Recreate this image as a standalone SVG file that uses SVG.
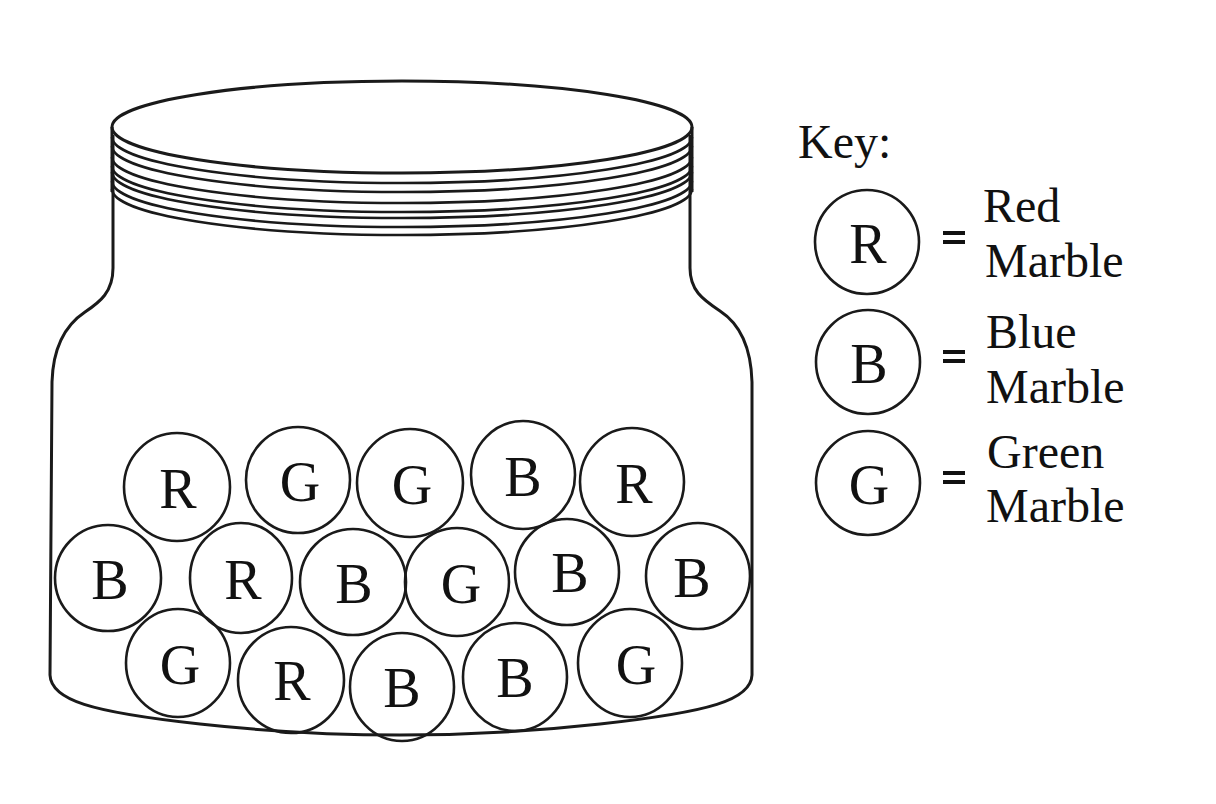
<svg xmlns="http://www.w3.org/2000/svg" width="1216" height="804" viewBox="0 0 1216 804">
<style>
.ln{fill:none;stroke:#1a1a1a;stroke-width:3}
.th{fill:none;stroke:#1a1a1a;stroke-width:2.6}
.m{fill:none;stroke:#1a1a1a;stroke-width:2.6}
text{font-family:"Liberation Serif","Times New Roman",Tinos,"Noto Serif","DejaVu Serif",FreeSerif,Times,serif;fill:#111}
.lt{font-size:56px;text-anchor:middle}
.kt{font-size:48px}
.eq{stroke:#111;stroke-width:4}
</style>
<rect width="1216" height="804" fill="#fff"/>
<g id="jar">
<path class="ln" d="M113,135 L113,268 C113,292 100,302 85,312 C64,326 53,348 52,382 L50,675 C51,700 90,712 200,724 Q400,746 600,724 C710,712 751,700 752,675 L752,382 C751,346 740,324 720,311 C702,299 690,290 690,268 L690,135"/>
</g>
<g id="lid">
<ellipse class="ln" cx="402" cy="127" rx="290" ry="46"/>
<path class="th" d="M112,127 A290,46 0 0 0 692,127" transform="translate(0,10)"/>
<path class="th" d="M112,127 A290,46 0 0 0 692,127" transform="translate(0,19)"/>
<path class="th" d="M112,127 A290,46 0 0 0 692,127" transform="translate(0,30)"/>
<path class="th" d="M112,127 A290,46 0 0 0 692,127" transform="translate(0,39)"/>
<path class="th" d="M112,127 A290,46 0 0 0 692,127" transform="translate(0,45)"/>
<path class="th" d="M112,127 A290,46 0 0 0 692,127" transform="translate(0,54)"/>
<path class="th" d="M112,127 A290,46 0 0 0 692,127" transform="translate(0,62)"/>
<line class="ln" x1="112" y1="127" x2="112" y2="192"/>
<line class="ln" x1="692" y1="127" x2="692" y2="192"/>
</g>
<g id="marbles">
<g id="m1"><ellipse class="m" cx="177" cy="487" rx="53" ry="54"/><text class="lt" x="178" y="508" font-family="Liberation Serif">R</text></g>
<g id="m2"><ellipse class="m" cx="298" cy="480" rx="52" ry="53"/><text class="lt" x="300" y="501">G</text></g>
<g id="m3"><ellipse class="m" cx="410" cy="483" rx="53" ry="54"/><text class="lt" x="412" y="504">G</text></g>
<g id="m4"><ellipse class="m" cx="523" cy="475" rx="52" ry="54"/><text class="lt" x="523" y="496">B</text></g>
<g id="m5"><ellipse class="m" cx="632" cy="482" rx="52" ry="54"/><text class="lt" x="634" y="503">R</text></g>
<g id="m6"><ellipse class="m" cx="108" cy="578" rx="53" ry="53"/><text class="lt" x="110" y="599">B</text></g>
<g id="m7"><ellipse class="m" cx="241" cy="578" rx="51" ry="55"/><text class="lt" x="243" y="599">R</text></g>
<g id="m8"><ellipse class="m" cx="353" cy="582" rx="53" ry="53"/><text class="lt" x="354" y="603">B</text></g>
<g id="m9"><ellipse class="m" cx="457" cy="582" rx="52" ry="54"/><text class="lt" x="461" y="603">G</text></g>
<g id="m10"><ellipse class="m" cx="567" cy="572" rx="52" ry="53"/><text class="lt" x="570" y="592">B</text></g>
<g id="m11"><ellipse class="m" cx="698" cy="576" rx="52" ry="53"/><text class="lt" x="692" y="597">B</text></g>
<g id="m12"><ellipse class="m" cx="178" cy="663" rx="52" ry="54"/><text class="lt" x="180" y="684">G</text></g>
<g id="m13"><ellipse class="m" cx="291" cy="680" rx="53" ry="53"/><text class="lt" x="292" y="700">R</text></g>
<g id="m14"><ellipse class="m" cx="402" cy="687" rx="52" ry="54"/><text class="lt" x="402" y="707">B</text></g>
<g id="m15"><ellipse class="m" cx="515" cy="677" rx="52" ry="54"/><text class="lt" x="515" y="697">B</text></g>
<g id="m16"><ellipse class="m" cx="630" cy="663" rx="52" ry="54"/><text class="lt" x="636" y="684">G</text></g>
</g>
<g id="key">
<text class="kt" x="798" y="158">Key:</text>
<g id="key-red"><circle class="m" cx="867" cy="242" r="52"/><text class="lt" x="868" y="263">R</text>
<line class="eq" x1="943" y1="233" x2="965" y2="233"/><line class="eq" x1="943" y1="242" x2="965" y2="242"/>
<text class="kt" x="983" y="222">Red</text><text class="kt" x="985" y="277">Marble</text></g>
<g id="key-blue"><circle class="m" cx="868" cy="362" r="52"/><text class="lt" x="869" y="383">B</text>
<line class="eq" x1="943" y1="352" x2="965" y2="352"/><line class="eq" x1="943" y1="361" x2="965" y2="361"/>
<text class="kt" x="986" y="348">Blue</text><text class="kt" x="986" y="403">Marble</text></g>
<g id="key-green"><circle class="m" cx="868" cy="483" r="52"/><text class="lt" x="869" y="504">G</text>
<line class="eq" x1="943" y1="473" x2="965" y2="473"/><line class="eq" x1="943" y1="482" x2="965" y2="482"/>
<text class="kt" x="987" y="468">Green</text><text class="kt" x="986" y="522">Marble</text></g>
</g>
<g id="connectors"></g>
</svg>
